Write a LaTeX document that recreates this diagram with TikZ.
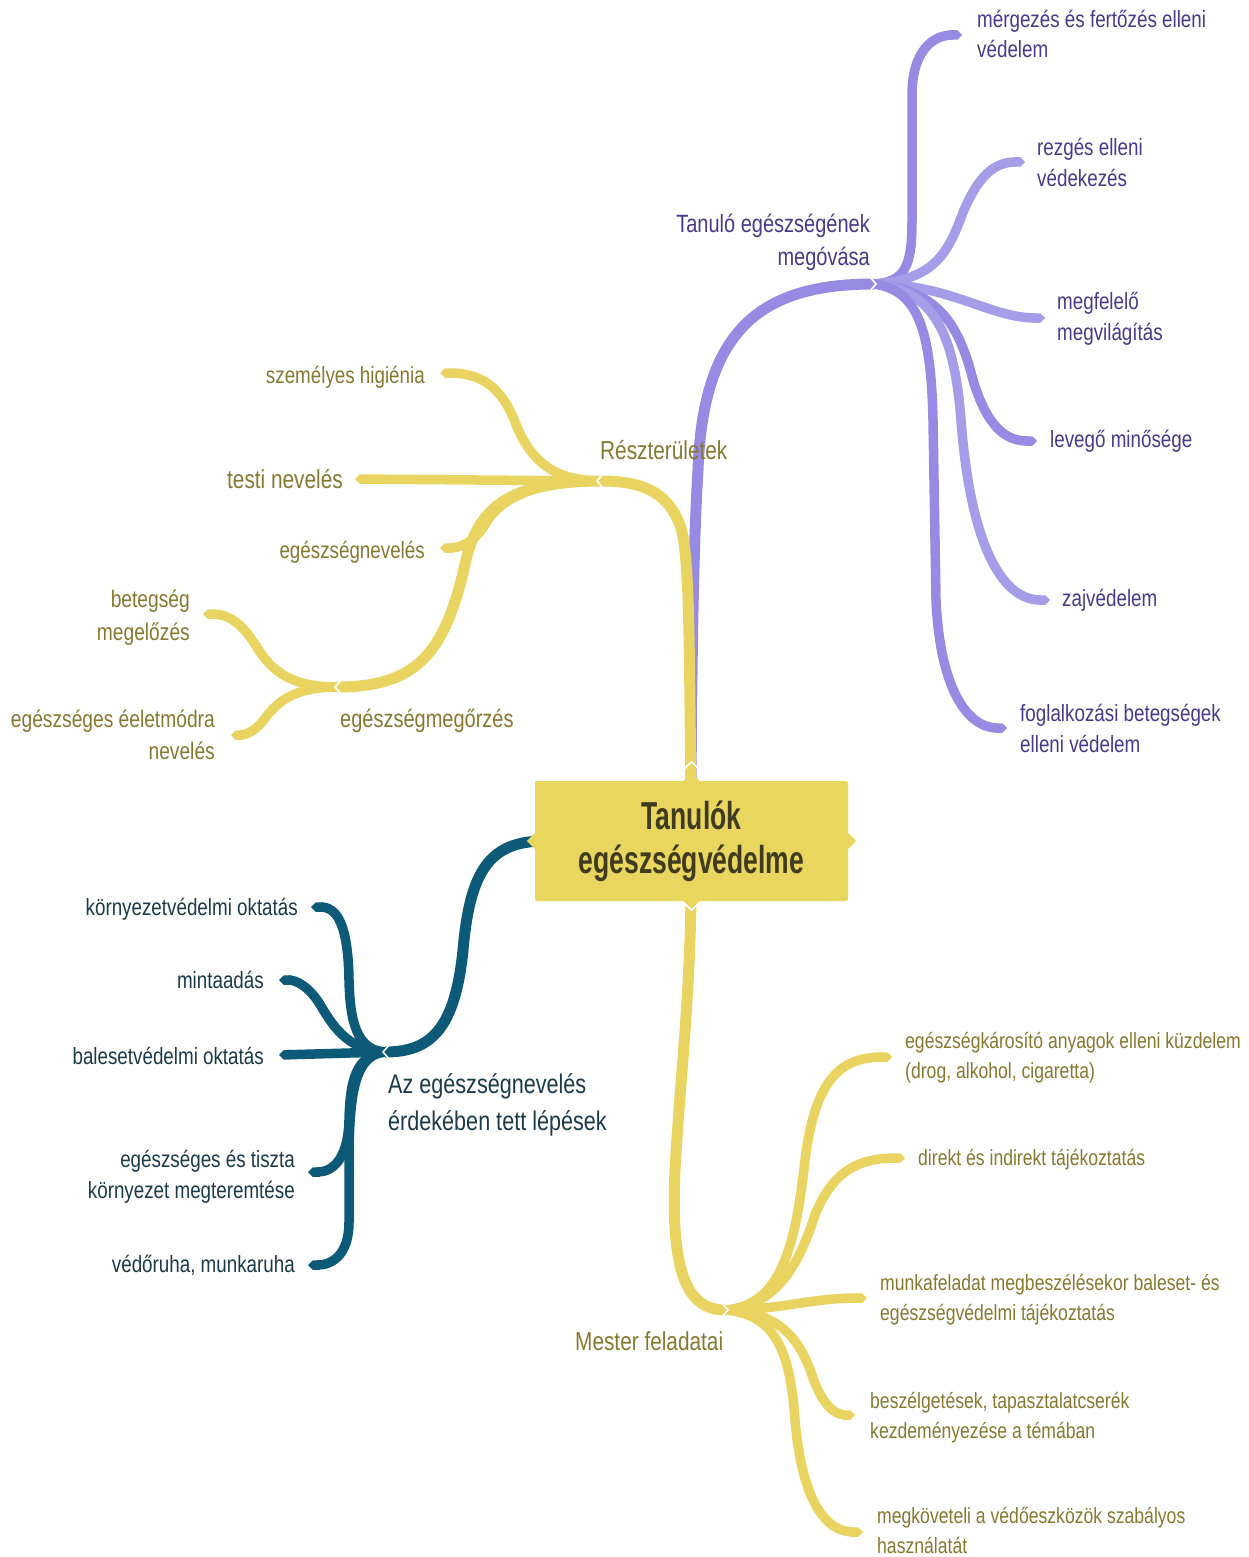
\documentclass[tikz,border=0pt]{standalone}
\usepackage{fontspec}
\setmainfont{Liberation Sans}[FakeStretch=0.8]
\newfontfamily\rootfont{Liberation Sans}[FakeStretch=0.68]
\usetikzlibrary{arrows.meta}
\definecolor{boxfill}{HTML}{E9D65E}
\definecolor{ylw}{HTML}{E9D462}
\definecolor{ylwtext}{HTML}{877830}
\definecolor{prp}{HTML}{968AE3}
\definecolor{prplight}{HTML}{A69DE9}
\definecolor{prptext}{HTML}{463A8C}
\definecolor{teal}{HTML}{0D5A78}
\definecolor{tealtext}{HTML}{1B3A4A}
\definecolor{roottext}{HTML}{403A1E}
\begin{document}
\begin{tikzpicture}[x=1pt,y=-1pt,
  mainbranch/.style={line width=11pt,line cap=butt},
  leafbranch/.style={line width=9.5pt,line cap=butt,-{Triangle Cap[]}},
  lbl/.style={inner sep=0pt,font=\fontsize{23.5}{30.5}\selectfont},
  sublbl/.style={inner sep=0pt,font=\fontsize{26}{33}\selectfont},
  ylbl/.style={lbl,text=ylwtext},
  plbl/.style={lbl,text=prptext},
  tlbl/.style={lbl,text=tealtext},
  mlbl/.style={inner sep=0pt,text=ylwtext,font=\fontsize{22}{30}\selectfont},
  notch/.style={white,line width=1.6pt,line join=miter}]
\useasboundingbox (0,0) rectangle (1248,1557);

% ---------- hubs and anchor points ----------
\coordinate (rootTop) at (691,790);
\coordinate (rootBot) at (691,893);
\coordinate (rootLeft) at (545,841);
\coordinate (hubP) at (874,284);
\coordinate (hubR) at (599,481);
\coordinate (hubG) at (337,687);
\coordinate (hubT) at (385,1052);
\coordinate (hubM) at (726,1310);

% ---------- purple branch ----------
\draw[mainbranch,prp] (rootTop) .. controls (692,600) and (695,520) .. (698,470)
  .. controls (703,330) and (760,284) .. (hubP);
\coordinate (p1) at (962,35);
\coordinate (p2) at (1025,162);
\coordinate (p3) at (1045,318);
\coordinate (p4) at (1037,441);
\coordinate (p5) at (1050,600);
\coordinate (p6) at (1007,728);
\draw[leafbranch,prp] (hubP) .. controls (906,282) and (912,265) .. (912,220)
  -- (912,95) .. controls (912,52) and (932,35) .. (p1);
\draw[leafbranch,prplight] (hubP) .. controls (935,280) and (948,252) .. (962,215)
  .. controls (978,175) and (995,162) .. (p2);
\draw[leafbranch,prplight] (hubP) .. controls (950,284) and (990,318) .. (p3);
\draw[leafbranch,prp] (hubP) .. controls (935,290) and (958,320) .. (973,380)
  .. controls (988,430) and (1008,441) .. (p4);
\draw[leafbranch,prplight] (hubP) .. controls (932,290) and (954,330) .. (961,420)
  .. controls (970,540) and (1000,600) .. (p5);
\draw[leafbranch,prp] (hubP) .. controls (918,290) and (931,330) .. (933,420)
  -- (936,600) .. controls (940,690) and (968,728) .. (p6);

% ---------- yellow branch: Részterületek ----------
\draw[mainbranch,ylw] (rootTop) .. controls (689,650) and (690,560) .. (681,528)
  .. controls (668,490) and (640,481) .. (hubR);
\coordinate (y1) at (440,373);
\coordinate (y2) at (355,479);
\coordinate (y3) at (440,548);
\draw[leafbranch,ylw] (hubR) .. controls (552,480) and (530,460) .. (515,422)
  .. controls (501,386) and (480,373) .. (y1);
\draw[leafbranch,ylw] (hubR) -- (y2);
\draw[leafbranch,ylw] (hubR) .. controls (530,482) and (500,500) .. (486,523)
  .. controls (474,543) and (460,548) .. (y3);
\draw[mainbranch,ylw] (hubR) .. controls (520,482) and (480,500) .. (466,560)
  .. controls (446,650) and (420,687) .. (hubG);
\coordinate (g1) at (203,614);
\coordinate (g2) at (231,735);
\draw[leafbranch,ylw] (hubG) .. controls (292,687) and (272,672) .. (256,646)
  .. controls (241,621) and (226,614) .. (g1);
\draw[leafbranch,ylw] (hubG) .. controls (292,687) and (276,704) .. (266,717)
  .. controls (256,731) and (246,735) .. (g2);

% ---------- teal branch ----------
\draw[mainbranch,teal] (rootLeft) .. controls (490,841) and (470,870) .. (463,950)
  .. controls (455,1030) and (430,1052) .. (hubT);
\coordinate (t1) at (311,907);
\coordinate (t2) at (279,980);
\coordinate (t3) at (279,1055);
\coordinate (t4) at (308,1172);
\coordinate (t5) at (308,1265);
\draw[leafbranch,teal] (hubT) .. controls (356,1050) and (350,1020) .. (349,980)
  .. controls (348,922) and (336,907) .. (t1);
\draw[leafbranch,teal] (hubT) .. controls (350,1050) and (335,1030) .. (321,1006)
  .. controls (309,986) and (296,980) .. (t2);
\draw[leafbranch,teal] (hubT) -- (t3);
\draw[leafbranch,teal] (hubT) .. controls (356,1055) and (350,1080) .. (349,1120)
  .. controls (348,1160) and (332,1172) .. (t4);
\draw[leafbranch,teal] (hubT) .. controls (356,1055) and (350,1090) .. (349,1150)
  -- (349,1222) .. controls (349,1255) and (332,1265) .. (t5);

% ---------- yellow branch: Mester feladatai ----------
\draw[mainbranch,ylw] (rootBot) .. controls (690,1000) and (680,1080) .. (675,1170)
  .. controls (670,1280) and (690,1310) .. (hubM);
\coordinate (m1) at (892,1057);
\coordinate (m2) at (905,1158);
\coordinate (m3) at (867,1298);
\coordinate (m4) at (855,1415);
\coordinate (m5) at (863,1532);
\draw[leafbranch,ylw] (hubM) .. controls (780,1305) and (795,1250) .. (805,1160)
  .. controls (815,1080) and (840,1057) .. (m1);
\draw[leafbranch,ylw] (hubM) .. controls (780,1305) and (800,1260) .. (815,1215)
  .. controls (833,1170) and (860,1158) .. (m2);
\draw[leafbranch,ylw] (hubM) .. controls (780,1310) and (810,1298) .. (m3);
\draw[leafbranch,ylw] (hubM) .. controls (780,1312) and (800,1340) .. (812,1375)
  .. controls (822,1405) and (835,1415) .. (m4);
\draw[leafbranch,ylw] (hubM) .. controls (775,1315) and (790,1350) .. (795,1420)
  .. controls (802,1500) and (825,1532) .. (m5);

% ---------- central topic ----------
\node[fill=boxfill,minimum width=313pt,minimum height=120pt,inner sep=0pt,
  rounded corners=2pt,text=roottext,align=center,
  font=\rootfont\bfseries\fontsize{39}{44}\selectfont] (root) at (691.5,841)
  {Tanulók\\egészségvédelme};
\fill[boxfill] ([xshift=-8pt]root.north) -- ([yshift=8pt]root.north) -- ([xshift=8pt]root.north) -- cycle;
\fill[boxfill] ([xshift=-8pt]root.south) -- ([yshift=-8pt]root.south) -- ([xshift=8pt]root.south) -- cycle;
\fill[boxfill] ([yshift=-8pt]root.west) -- ([xshift=-8pt]root.west) -- ([yshift=8pt]root.west) -- cycle;
\fill[boxfill] ([yshift=-8pt]root.east) -- ([xshift=8pt]root.east) -- ([yshift=8pt]root.east) -- cycle;
\draw[notch] ([xshift=-8pt,yshift=11pt]root.north) -- ([yshift=19pt]root.north) -- ([xshift=8pt,yshift=11pt]root.north);
\draw[notch] ([xshift=-7pt,yshift=-2pt]root.south) -- ([yshift=-9pt]root.south) -- ([xshift=7pt,yshift=-2pt]root.south);

% ---------- hub notches ----------
\draw[notch] ([xshift=-5pt,yshift=-8pt]hubP) -- ([xshift=2pt]hubP) -- ([xshift=-5pt,yshift=8pt]hubP);
\draw[notch] ([xshift=5pt,yshift=-8pt]hubR) -- ([xshift=-2pt]hubR) -- ([xshift=5pt,yshift=8pt]hubR);
\draw[notch] ([xshift=5pt,yshift=-8pt]hubG) -- ([xshift=-2pt]hubG) -- ([xshift=5pt,yshift=8pt]hubG);
\draw[notch] ([xshift=5pt,yshift=-8pt]hubT) -- ([xshift=-2pt]hubT) -- ([xshift=5pt,yshift=8pt]hubT);
\draw[notch] ([xshift=-5pt,yshift=-8pt]hubM) -- ([xshift=2pt]hubM) -- ([xshift=-5pt,yshift=8pt]hubM);

% ---------- labels (multi-line ones are placed by their last baseline) ----------
\node[inner sep=0pt,text=prptext,font=\fontsize{25}{33}\selectfont,align=right,anchor=base east] (lblP) at (870,265) {Tanuló egészségének\\megóvása};
\node[plbl,align=left,anchor=base west] (lp1) at (977,58) {mérgezés és fertőzés elleni\\védelem};
\node[plbl,align=left,anchor=base west] (lp2) at (1037,186) {rezgés elleni\\védekezés};
\node[plbl,align=left,anchor=base west] (lp3) at (1057,340) {megfelelő\\megvilágítás};
\node[plbl,anchor=base west] (lp4) at (1050,447) {levegő minősége};
\node[plbl,anchor=base west] (lp5) at (1062,606) {zajvédelem};
\node[plbl,align=left,anchor=base west] (lp6) at (1020,752) {foglalkozási betegségek\\elleni védelem};

\node[sublbl,text=ylwtext,anchor=base west] (lblR) at (600,459) {Részterületek};
\node[ylbl,anchor=base east] (ly1) at (425,383) {személyes higiénia};
\node[sublbl,text=ylwtext,anchor=base east] (ly2) at (343,488) {testi nevelés};
\node[ylbl,anchor=base east] (ly3) at (425,558) {egészségnevelés};
\node[inner sep=0pt,text=ylwtext,font=\fontsize{25}{33}\selectfont,anchor=base west] (lblG) at (340,727) {egészségmegőrzés};
\node[inner sep=0pt,text=ylwtext,font=\fontsize{24}{33}\selectfont,align=right,anchor=base east] (lg1) at (190,640) {betegség\\megelőzés};
\node[inner sep=0pt,text=ylwtext,font=\fontsize{24}{32}\selectfont,align=right,anchor=base east] (lg2) at (215,759) {egészséges éeletmódra\\nevelés};

\node[inner sep=0pt,text=tealtext,font=\fontsize{27}{37}\selectfont,align=left,anchor=base west] (lblT) at (388,1130) {Az egészségnevelés\\érdekében tett lépések};
\node[tlbl,anchor=base east] (lt1) at (298,915) {környezetvédelmi oktatás};
\node[tlbl,anchor=base east] (lt2) at (264,988) {mintaadás};
\node[tlbl,anchor=base east] (lt3) at (264,1064) {balesetvédelmi oktatás};
\node[tlbl,align=right,anchor=base east] (lt4) at (295,1198) {egészséges és tiszta\\környezet megteremtése};
\node[tlbl,anchor=base east] (lt5) at (295,1272) {védőruha, munkaruha};

\node[sublbl,text=ylwtext,anchor=base west] (lblM) at (575,1350) {Mester feladatai};
\node[mlbl,align=left,anchor=base west] (lm1) at (905,1078) {egészségkárosító anyagok elleni küzdelem\\(drog, alkohol, cigaretta)};
\node[mlbl,anchor=base west] (lm2) at (918,1165) {direkt és indirekt tájékoztatás};
\node[mlbl,align=left,anchor=base west] (lm3) at (880,1320) {munkafeladat megbeszélésekor baleset- és\\egészségvédelmi tájékoztatás};
\node[mlbl,align=left,anchor=base west] (lm4) at (870,1438) {beszélgetések, tapasztalatcserék\\kezdeményezése a témában};
\node[mlbl,align=left,anchor=base west] (lm5) at (877,1553) {megköveteli a védőeszközök szabályos\\használatát};
\end{tikzpicture}
\end{document}
